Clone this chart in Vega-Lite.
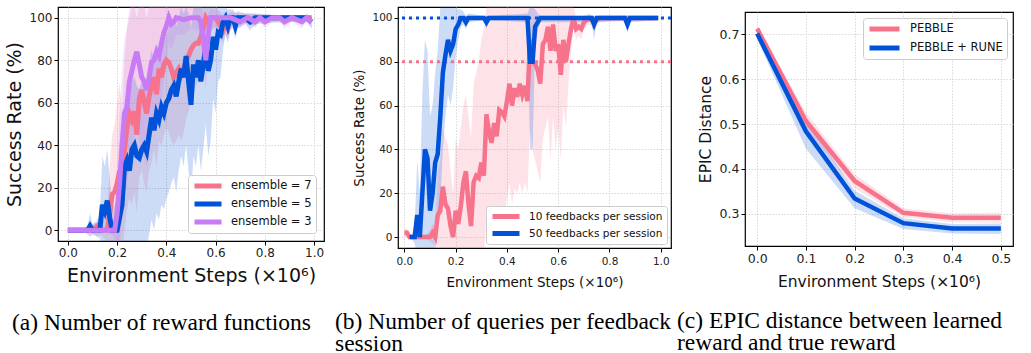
{
  "$schema": "https://vega.github.io/schema/vega-lite/v6.json",
  "padding": {"left": 4, "top": 6, "right": 0, "bottom": 0},
  "bounds": "flush",
  "spacing": 74,
  "config": {
    "font": "DejaVu Sans",
    "view": {"stroke": "#000", "strokeWidth": 1.2},
    "axis": {"domain": false, "grid": true, "gridColor": "#cfcfcf", "gridDash": [1.5, 1.5], "gridWidth": 0.8, "tickColor": "#000", "tickSize": 4, "labelColor": "#222", "titleColor": "#111", "titleFontWeight": "normal", "labelPadding": 2},
    "title": {"font": "Liberation Serif", "fontWeight": "normal", "color": "#000", "fontSize": 23.5}
  },
  "datasets": {
    "a": [
      {"s":"ensemble = 7","x":0,"v":0,"lo":0,"hi":0},
      {"s":"ensemble = 7","x":0.06,"v":0,"lo":0,"hi":0},
      {"s":"ensemble = 7","x":0.09,"v":0,"lo":-1,"hi":1},
      {"s":"ensemble = 7","x":0.1,"v":0,"lo":-2,"hi":2},
      {"s":"ensemble = 7","x":0.11,"v":1,"lo":-2,"hi":4},
      {"s":"ensemble = 7","x":0.12,"v":2,"lo":-3,"hi":6},
      {"s":"ensemble = 7","x":0.13,"v":0,"lo":-2,"hi":3},
      {"s":"ensemble = 7","x":0.15,"v":0,"lo":-4,"hi":6},
      {"s":"ensemble = 7","x":0.16,"v":0,"lo":-6,"hi":10},
      {"s":"ensemble = 7","x":0.17,"v":8,"lo":-15,"hi":30},
      {"s":"ensemble = 7","x":0.18,"v":17,"lo":-10,"hi":45},
      {"s":"ensemble = 7","x":0.19,"v":18,"lo":-12,"hi":50},
      {"s":"ensemble = 7","x":0.2,"v":22,"lo":-10,"hi":60},
      {"s":"ensemble = 7","x":0.21,"v":28,"lo":-8,"hi":70},
      {"s":"ensemble = 7","x":0.22,"v":15,"lo":-15,"hi":55},
      {"s":"ensemble = 7","x":0.23,"v":38,"lo":0,"hi":80},
      {"s":"ensemble = 7","x":0.24,"v":48,"lo":10,"hi":95},
      {"s":"ensemble = 7","x":0.25,"v":55,"lo":15,"hi":100},
      {"s":"ensemble = 7","x":0.26,"v":52,"lo":12,"hi":105},
      {"s":"ensemble = 7","x":0.27,"v":56,"lo":18,"hi":105},
      {"s":"ensemble = 7","x":0.28,"v":45,"lo":8,"hi":100},
      {"s":"ensemble = 7","x":0.29,"v":62,"lo":25,"hi":105},
      {"s":"ensemble = 7","x":0.3,"v":66,"lo":28,"hi":105},
      {"s":"ensemble = 7","x":0.31,"v":60,"lo":22,"hi":105},
      {"s":"ensemble = 7","x":0.32,"v":55,"lo":18,"hi":100},
      {"s":"ensemble = 7","x":0.33,"v":63,"lo":28,"hi":105},
      {"s":"ensemble = 7","x":0.34,"v":68,"lo":32,"hi":105},
      {"s":"ensemble = 7","x":0.35,"v":72,"lo":38,"hi":105},
      {"s":"ensemble = 7","x":0.36,"v":64,"lo":30,"hi":105},
      {"s":"ensemble = 7","x":0.37,"v":76,"lo":42,"hi":105},
      {"s":"ensemble = 7","x":0.38,"v":72,"lo":40,"hi":105},
      {"s":"ensemble = 7","x":0.39,"v":78,"lo":45,"hi":105},
      {"s":"ensemble = 7","x":0.4,"v":80,"lo":48,"hi":105},
      {"s":"ensemble = 7","x":0.41,"v":79,"lo":46,"hi":105},
      {"s":"ensemble = 7","x":0.42,"v":76,"lo":42,"hi":105},
      {"s":"ensemble = 7","x":0.43,"v":72,"lo":40,"hi":105},
      {"s":"ensemble = 7","x":0.44,"v":74,"lo":42,"hi":105},
      {"s":"ensemble = 7","x":0.45,"v":76,"lo":45,"hi":105},
      {"s":"ensemble = 7","x":0.46,"v":73,"lo":42,"hi":105},
      {"s":"ensemble = 7","x":0.47,"v":76,"lo":46,"hi":105},
      {"s":"ensemble = 7","x":0.48,"v":80,"lo":52,"hi":105},
      {"s":"ensemble = 7","x":0.49,"v":82,"lo":56,"hi":105},
      {"s":"ensemble = 7","x":0.5,"v":85,"lo":60,"hi":105},
      {"s":"ensemble = 7","x":0.51,"v":87,"lo":64,"hi":105},
      {"s":"ensemble = 7","x":0.52,"v":88,"lo":68,"hi":105},
      {"s":"ensemble = 7","x":0.53,"v":88,"lo":70,"hi":105},
      {"s":"ensemble = 7","x":0.54,"v":91,"lo":75,"hi":105},
      {"s":"ensemble = 7","x":0.55,"v":95,"lo":82,"hi":105},
      {"s":"ensemble = 7","x":0.56,"v":100,"lo":92,"hi":105},
      {"s":"ensemble = 7","x":0.57,"v":98,"lo":90,"hi":105},
      {"s":"ensemble = 7","x":0.58,"v":100,"lo":94,"hi":105},
      {"s":"ensemble = 7","x":0.6,"v":100,"lo":95,"hi":105},
      {"s":"ensemble = 7","x":0.61,"v":98,"lo":92,"hi":104},
      {"s":"ensemble = 7","x":0.62,"v":96,"lo":90,"hi":102},
      {"s":"ensemble = 7","x":0.63,"v":94,"lo":88,"hi":100},
      {"s":"ensemble = 7","x":0.64,"v":97,"lo":92,"hi":102},
      {"s":"ensemble = 7","x":0.65,"v":95,"lo":90,"hi":100},
      {"s":"ensemble = 7","x":0.66,"v":99,"lo":95,"hi":103},
      {"s":"ensemble = 7","x":0.67,"v":100,"lo":97,"hi":103},
      {"s":"ensemble = 7","x":0.7,"v":100,"lo":98,"hi":102},
      {"s":"ensemble = 7","x":0.76,"v":99,"lo":96,"hi":102},
      {"s":"ensemble = 7","x":0.79,"v":100,"lo":99,"hi":101},
      {"s":"ensemble = 7","x":0.9,"v":100,"lo":99,"hi":101},
      {"s":"ensemble = 7","x":0.99,"v":100,"lo":99,"hi":101},

      {"s":"ensemble = 5","x":0,"v":0,"lo":0,"hi":0},
      {"s":"ensemble = 5","x":0.06,"v":0,"lo":0,"hi":0},
      {"s":"ensemble = 5","x":0.08,"v":0,"lo":-2,"hi":2},
      {"s":"ensemble = 5","x":0.09,"v":2,"lo":-3,"hi":8},
      {"s":"ensemble = 5","x":0.1,"v":0,"lo":-2,"hi":3},
      {"s":"ensemble = 5","x":0.12,"v":0,"lo":-3,"hi":4},
      {"s":"ensemble = 5","x":0.13,"v":0,"lo":-4,"hi":8},
      {"s":"ensemble = 5","x":0.14,"v":12,"lo":-10,"hi":35},
      {"s":"ensemble = 5","x":0.15,"v":9,"lo":-12,"hi":30},
      {"s":"ensemble = 5","x":0.16,"v":14,"lo":-10,"hi":38},
      {"s":"ensemble = 5","x":0.17,"v":6,"lo":-12,"hi":25},
      {"s":"ensemble = 5","x":0.18,"v":0,"lo":-5,"hi":10},
      {"s":"ensemble = 5","x":0.19,"v":0,"lo":-6,"hi":12},
      {"s":"ensemble = 5","x":0.2,"v":0,"lo":-8,"hi":15},
      {"s":"ensemble = 5","x":0.21,"v":6,"lo":-10,"hi":25},
      {"s":"ensemble = 5","x":0.22,"v":12,"lo":-15,"hi":40},
      {"s":"ensemble = 5","x":0.23,"v":30,"lo":-10,"hi":60},
      {"s":"ensemble = 5","x":0.24,"v":33,"lo":-8,"hi":65},
      {"s":"ensemble = 5","x":0.25,"v":28,"lo":-12,"hi":60},
      {"s":"ensemble = 5","x":0.26,"v":38,"lo":-5,"hi":70},
      {"s":"ensemble = 5","x":0.27,"v":40,"lo":-5,"hi":72},
      {"s":"ensemble = 5","x":0.28,"v":35,"lo":-10,"hi":68},
      {"s":"ensemble = 5","x":0.29,"v":34,"lo":-10,"hi":66},
      {"s":"ensemble = 5","x":0.3,"v":38,"lo":-8,"hi":70},
      {"s":"ensemble = 5","x":0.31,"v":40,"lo":-5,"hi":72},
      {"s":"ensemble = 5","x":0.32,"v":37,"lo":-8,"hi":70},
      {"s":"ensemble = 5","x":0.33,"v":45,"lo":-2,"hi":78},
      {"s":"ensemble = 5","x":0.34,"v":53,"lo":5,"hi":85},
      {"s":"ensemble = 5","x":0.35,"v":47,"lo":0,"hi":80},
      {"s":"ensemble = 5","x":0.36,"v":55,"lo":8,"hi":88},
      {"s":"ensemble = 5","x":0.37,"v":52,"lo":5,"hi":85},
      {"s":"ensemble = 5","x":0.38,"v":58,"lo":12,"hi":90},
      {"s":"ensemble = 5","x":0.39,"v":55,"lo":10,"hi":88},
      {"s":"ensemble = 5","x":0.4,"v":60,"lo":15,"hi":92},
      {"s":"ensemble = 5","x":0.41,"v":62,"lo":18,"hi":95},
      {"s":"ensemble = 5","x":0.42,"v":66,"lo":22,"hi":98},
      {"s":"ensemble = 5","x":0.43,"v":68,"lo":25,"hi":100},
      {"s":"ensemble = 5","x":0.44,"v":63,"lo":18,"hi":96},
      {"s":"ensemble = 5","x":0.45,"v":70,"lo":28,"hi":100},
      {"s":"ensemble = 5","x":0.46,"v":76,"lo":35,"hi":105},
      {"s":"ensemble = 5","x":0.47,"v":72,"lo":30,"hi":102},
      {"s":"ensemble = 5","x":0.48,"v":82,"lo":40,"hi":105},
      {"s":"ensemble = 5","x":0.49,"v":70,"lo":28,"hi":102},
      {"s":"ensemble = 5","x":0.5,"v":59,"lo":15,"hi":95},
      {"s":"ensemble = 5","x":0.51,"v":78,"lo":35,"hi":105},
      {"s":"ensemble = 5","x":0.52,"v":72,"lo":30,"hi":105},
      {"s":"ensemble = 5","x":0.53,"v":80,"lo":40,"hi":105},
      {"s":"ensemble = 5","x":0.54,"v":70,"lo":28,"hi":105},
      {"s":"ensemble = 5","x":0.55,"v":78,"lo":38,"hi":105},
      {"s":"ensemble = 5","x":0.56,"v":87,"lo":50,"hi":105},
      {"s":"ensemble = 5","x":0.57,"v":75,"lo":35,"hi":105},
      {"s":"ensemble = 5","x":0.58,"v":80,"lo":42,"hi":105},
      {"s":"ensemble = 5","x":0.59,"v":91,"lo":62,"hi":105},
      {"s":"ensemble = 5","x":0.6,"v":85,"lo":55,"hi":105},
      {"s":"ensemble = 5","x":0.61,"v":93,"lo":70,"hi":105},
      {"s":"ensemble = 5","x":0.62,"v":92,"lo":72,"hi":105},
      {"s":"ensemble = 5","x":0.63,"v":98,"lo":85,"hi":105},
      {"s":"ensemble = 5","x":0.64,"v":100,"lo":92,"hi":105},
      {"s":"ensemble = 5","x":0.65,"v":96,"lo":88,"hi":104},
      {"s":"ensemble = 5","x":0.66,"v":100,"lo":94,"hi":104},
      {"s":"ensemble = 5","x":0.67,"v":100,"lo":95,"hi":104},
      {"s":"ensemble = 5","x":0.68,"v":96,"lo":90,"hi":102},
      {"s":"ensemble = 5","x":0.69,"v":100,"lo":95,"hi":103},
      {"s":"ensemble = 5","x":0.72,"v":100,"lo":97,"hi":102},
      {"s":"ensemble = 5","x":0.74,"v":98,"lo":94,"hi":102},
      {"s":"ensemble = 5","x":0.76,"v":100,"lo":97,"hi":102},
      {"s":"ensemble = 5","x":0.88,"v":100,"lo":98,"hi":101},
      {"s":"ensemble = 5","x":0.97,"v":100,"lo":98,"hi":101},
      {"s":"ensemble = 5","x":0.99,"v":98,"lo":95,"hi":101},

      {"s":"ensemble = 3","x":0,"v":0,"lo":0,"hi":0},
      {"s":"ensemble = 3","x":0.1,"v":0,"lo":0,"hi":0},
      {"s":"ensemble = 3","x":0.15,"v":0,"lo":-1,"hi":1},
      {"s":"ensemble = 3","x":0.18,"v":0,"lo":-2,"hi":2},
      {"s":"ensemble = 3","x":0.19,"v":0,"lo":-4,"hi":6},
      {"s":"ensemble = 3","x":0.2,"v":8,"lo":-10,"hi":30},
      {"s":"ensemble = 3","x":0.21,"v":22,"lo":-8,"hi":55},
      {"s":"ensemble = 3","x":0.22,"v":40,"lo":5,"hi":75},
      {"s":"ensemble = 3","x":0.23,"v":55,"lo":18,"hi":90},
      {"s":"ensemble = 3","x":0.24,"v":58,"lo":20,"hi":95},
      {"s":"ensemble = 3","x":0.25,"v":70,"lo":32,"hi":105},
      {"s":"ensemble = 3","x":0.26,"v":75,"lo":38,"hi":105},
      {"s":"ensemble = 3","x":0.27,"v":80,"lo":45,"hi":105},
      {"s":"ensemble = 3","x":0.28,"v":84,"lo":50,"hi":105},
      {"s":"ensemble = 3","x":0.29,"v":78,"lo":42,"hi":105},
      {"s":"ensemble = 3","x":0.3,"v":72,"lo":36,"hi":105},
      {"s":"ensemble = 3","x":0.31,"v":70,"lo":34,"hi":105},
      {"s":"ensemble = 3","x":0.32,"v":66,"lo":30,"hi":105},
      {"s":"ensemble = 3","x":0.33,"v":72,"lo":38,"hi":105},
      {"s":"ensemble = 3","x":0.34,"v":79,"lo":45,"hi":105},
      {"s":"ensemble = 3","x":0.35,"v":80,"lo":48,"hi":105},
      {"s":"ensemble = 3","x":0.36,"v":84,"lo":52,"hi":105},
      {"s":"ensemble = 3","x":0.37,"v":82,"lo":50,"hi":105},
      {"s":"ensemble = 3","x":0.38,"v":88,"lo":60,"hi":105},
      {"s":"ensemble = 3","x":0.39,"v":93,"lo":70,"hi":105},
      {"s":"ensemble = 3","x":0.4,"v":96,"lo":78,"hi":105},
      {"s":"ensemble = 3","x":0.41,"v":100,"lo":88,"hi":105},
      {"s":"ensemble = 3","x":0.42,"v":97,"lo":85,"hi":105},
      {"s":"ensemble = 3","x":0.43,"v":98,"lo":88,"hi":105},
      {"s":"ensemble = 3","x":0.44,"v":100,"lo":92,"hi":105},
      {"s":"ensemble = 3","x":0.47,"v":99,"lo":92,"hi":105},
      {"s":"ensemble = 3","x":0.5,"v":100,"lo":95,"hi":105},
      {"s":"ensemble = 3","x":0.53,"v":100,"lo":94,"hi":105},
      {"s":"ensemble = 3","x":0.54,"v":98,"lo":90,"hi":105},
      {"s":"ensemble = 3","x":0.55,"v":90,"lo":78,"hi":102},
      {"s":"ensemble = 3","x":0.56,"v":80,"lo":65,"hi":98},
      {"s":"ensemble = 3","x":0.57,"v":92,"lo":82,"hi":102},
      {"s":"ensemble = 3","x":0.58,"v":100,"lo":95,"hi":104},
      {"s":"ensemble = 3","x":0.66,"v":100,"lo":98,"hi":102},
      {"s":"ensemble = 3","x":0.7,"v":98,"lo":95,"hi":101},
      {"s":"ensemble = 3","x":0.73,"v":100,"lo":98,"hi":102},
      {"s":"ensemble = 3","x":0.76,"v":98,"lo":95,"hi":101},
      {"s":"ensemble = 3","x":0.78,"v":100,"lo":98,"hi":101},
      {"s":"ensemble = 3","x":0.8,"v":98,"lo":95,"hi":101},
      {"s":"ensemble = 3","x":0.83,"v":100,"lo":98,"hi":101},
      {"s":"ensemble = 3","x":0.86,"v":100,"lo":98,"hi":101},
      {"s":"ensemble = 3","x":0.88,"v":98,"lo":95,"hi":101},
      {"s":"ensemble = 3","x":0.91,"v":100,"lo":98,"hi":101},
      {"s":"ensemble = 3","x":0.95,"v":98,"lo":95,"hi":101},
      {"s":"ensemble = 3","x":0.97,"v":100,"lo":98,"hi":101},
      {"s":"ensemble = 3","x":0.99,"v":98,"lo":95,"hi":101}
    ],
    "b": [
      {"s":"10 feedbacks per session","x":0,"v":2,"lo":0,"hi":4},
      {"s":"10 feedbacks per session","x":0.01,"v":2,"lo":0,"hi":4},
      {"s":"10 feedbacks per session","x":0.02,"v":0,"lo":-1,"hi":1},
      {"s":"10 feedbacks per session","x":0.08,"v":0,"lo":-1,"hi":1},
      {"s":"10 feedbacks per session","x":0.1,"v":0,"lo":-2,"hi":3},
      {"s":"10 feedbacks per session","x":0.11,"v":2,"lo":-3,"hi":6},
      {"s":"10 feedbacks per session","x":0.12,"v":0,"lo":-4,"hi":5},
      {"s":"10 feedbacks per session","x":0.13,"v":10,"lo":-10,"hi":30},
      {"s":"10 feedbacks per session","x":0.14,"v":12,"lo":-12,"hi":35},
      {"s":"10 feedbacks per session","x":0.15,"v":23,"lo":-8,"hi":50},
      {"s":"10 feedbacks per session","x":0.16,"v":15,"lo":-15,"hi":45},
      {"s":"10 feedbacks per session","x":0.17,"v":13,"lo":-15,"hi":42},
      {"s":"10 feedbacks per session","x":0.18,"v":5,"lo":-20,"hi":30},
      {"s":"10 feedbacks per session","x":0.19,"v":0,"lo":-15,"hi":20},
      {"s":"10 feedbacks per session","x":0.2,"v":12,"lo":-15,"hi":45},
      {"s":"10 feedbacks per session","x":0.21,"v":6,"lo":-20,"hi":40},
      {"s":"10 feedbacks per session","x":0.22,"v":14,"lo":-15,"hi":50},
      {"s":"10 feedbacks per session","x":0.23,"v":25,"lo":-10,"hi":60},
      {"s":"10 feedbacks per session","x":0.24,"v":30,"lo":-8,"hi":65},
      {"s":"10 feedbacks per session","x":0.25,"v":15,"lo":-20,"hi":55},
      {"s":"10 feedbacks per session","x":0.26,"v":5,"lo":-25,"hi":45},
      {"s":"10 feedbacks per session","x":0.27,"v":25,"lo":-12,"hi":70},
      {"s":"10 feedbacks per session","x":0.28,"v":28,"lo":-10,"hi":75},
      {"s":"10 feedbacks per session","x":0.29,"v":27,"lo":-12,"hi":80},
      {"s":"10 feedbacks per session","x":0.3,"v":34,"lo":-5,"hi":90},
      {"s":"10 feedbacks per session","x":0.31,"v":28,"lo":-10,"hi":95},
      {"s":"10 feedbacks per session","x":0.32,"v":56,"lo":10,"hi":105},
      {"s":"10 feedbacks per session","x":0.33,"v":48,"lo":5,"hi":105},
      {"s":"10 feedbacks per session","x":0.34,"v":43,"lo":0,"hi":105},
      {"s":"10 feedbacks per session","x":0.35,"v":52,"lo":8,"hi":105},
      {"s":"10 feedbacks per session","x":0.36,"v":46,"lo":2,"hi":105},
      {"s":"10 feedbacks per session","x":0.37,"v":58,"lo":12,"hi":105},
      {"s":"10 feedbacks per session","x":0.38,"v":57,"lo":12,"hi":105},
      {"s":"10 feedbacks per session","x":0.39,"v":55,"lo":10,"hi":105},
      {"s":"10 feedbacks per session","x":0.4,"v":62,"lo":18,"hi":105},
      {"s":"10 feedbacks per session","x":0.41,"v":70,"lo":25,"hi":105},
      {"s":"10 feedbacks per session","x":0.42,"v":60,"lo":15,"hi":105},
      {"s":"10 feedbacks per session","x":0.43,"v":68,"lo":22,"hi":105},
      {"s":"10 feedbacks per session","x":0.44,"v":64,"lo":20,"hi":105},
      {"s":"10 feedbacks per session","x":0.45,"v":70,"lo":25,"hi":105},
      {"s":"10 feedbacks per session","x":0.46,"v":65,"lo":20,"hi":105},
      {"s":"10 feedbacks per session","x":0.47,"v":69,"lo":25,"hi":105},
      {"s":"10 feedbacks per session","x":0.48,"v":62,"lo":20,"hi":105},
      {"s":"10 feedbacks per session","x":0.49,"v":90,"lo":50,"hi":105},
      {"s":"10 feedbacks per session","x":0.5,"v":80,"lo":40,"hi":105},
      {"s":"10 feedbacks per session","x":0.51,"v":79,"lo":35,"hi":105},
      {"s":"10 feedbacks per session","x":0.52,"v":76,"lo":30,"hi":105},
      {"s":"10 feedbacks per session","x":0.53,"v":70,"lo":25,"hi":105},
      {"s":"10 feedbacks per session","x":0.54,"v":88,"lo":45,"hi":105},
      {"s":"10 feedbacks per session","x":0.55,"v":90,"lo":50,"hi":105},
      {"s":"10 feedbacks per session","x":0.56,"v":96,"lo":55,"hi":105},
      {"s":"10 feedbacks per session","x":0.57,"v":85,"lo":35,"hi":105},
      {"s":"10 feedbacks per session","x":0.58,"v":97,"lo":55,"hi":105},
      {"s":"10 feedbacks per session","x":0.59,"v":85,"lo":40,"hi":105},
      {"s":"10 feedbacks per session","x":0.6,"v":88,"lo":50,"hi":105},
      {"s":"10 feedbacks per session","x":0.61,"v":74,"lo":35,"hi":105},
      {"s":"10 feedbacks per session","x":0.62,"v":90,"lo":60,"hi":105},
      {"s":"10 feedbacks per session","x":0.63,"v":80,"lo":50,"hi":105},
      {"s":"10 feedbacks per session","x":0.64,"v":88,"lo":70,"hi":105},
      {"s":"10 feedbacks per session","x":0.65,"v":95,"lo":85,"hi":105},
      {"s":"10 feedbacks per session","x":0.66,"v":100,"lo":95,"hi":105},
      {"s":"10 feedbacks per session","x":0.67,"v":95,"lo":90,"hi":100},
      {"s":"10 feedbacks per session","x":0.68,"v":96,"lo":92,"hi":100},
      {"s":"10 feedbacks per session","x":0.69,"v":95,"lo":90,"hi":100},
      {"s":"10 feedbacks per session","x":0.7,"v":98,"lo":95,"hi":101},
      {"s":"10 feedbacks per session","x":0.72,"v":100,"lo":97,"hi":102},
      {"s":"10 feedbacks per session","x":0.74,"v":98,"lo":95,"hi":101},
      {"s":"10 feedbacks per session","x":0.76,"v":100,"lo":98,"hi":101},
      {"s":"10 feedbacks per session","x":0.99,"v":100,"lo":99,"hi":101},

      {"s":"50 feedbacks per session","x":0.02,"v":0,"lo":0,"hi":0},
      {"s":"50 feedbacks per session","x":0.03,"v":0,"lo":-1,"hi":1},
      {"s":"50 feedbacks per session","x":0.04,"v":0,"lo":-3,"hi":5},
      {"s":"50 feedbacks per session","x":0.05,"v":10,"lo":-10,"hi":35},
      {"s":"50 feedbacks per session","x":0.06,"v":0,"lo":-10,"hi":20},
      {"s":"50 feedbacks per session","x":0.07,"v":20,"lo":-10,"hi":65},
      {"s":"50 feedbacks per session","x":0.08,"v":40,"lo":-5,"hi":90},
      {"s":"50 feedbacks per session","x":0.09,"v":36,"lo":-10,"hi":85},
      {"s":"50 feedbacks per session","x":0.1,"v":12,"lo":-15,"hi":55},
      {"s":"50 feedbacks per session","x":0.11,"v":20,"lo":-10,"hi":60},
      {"s":"50 feedbacks per session","x":0.12,"v":34,"lo":-5,"hi":75},
      {"s":"50 feedbacks per session","x":0.13,"v":38,"lo":0,"hi":85},
      {"s":"50 feedbacks per session","x":0.14,"v":55,"lo":15,"hi":105},
      {"s":"50 feedbacks per session","x":0.15,"v":75,"lo":40,"hi":105},
      {"s":"50 feedbacks per session","x":0.16,"v":83,"lo":55,"hi":105},
      {"s":"50 feedbacks per session","x":0.17,"v":90,"lo":65,"hi":105},
      {"s":"50 feedbacks per session","x":0.18,"v":85,"lo":60,"hi":105},
      {"s":"50 feedbacks per session","x":0.19,"v":88,"lo":68,"hi":105},
      {"s":"50 feedbacks per session","x":0.2,"v":95,"lo":82,"hi":105},
      {"s":"50 feedbacks per session","x":0.21,"v":97,"lo":90,"hi":104},
      {"s":"50 feedbacks per session","x":0.22,"v":100,"lo":96,"hi":104},
      {"s":"50 feedbacks per session","x":0.23,"v":100,"lo":97,"hi":103},
      {"s":"50 feedbacks per session","x":0.24,"v":98,"lo":95,"hi":101},
      {"s":"50 feedbacks per session","x":0.25,"v":100,"lo":98,"hi":102},
      {"s":"50 feedbacks per session","x":0.31,"v":100,"lo":99,"hi":101},
      {"s":"50 feedbacks per session","x":0.32,"v":98,"lo":95,"hi":101},
      {"s":"50 feedbacks per session","x":0.33,"v":100,"lo":99,"hi":101},
      {"s":"50 feedbacks per session","x":0.48,"v":100,"lo":98,"hi":102},
      {"s":"50 feedbacks per session","x":0.49,"v":80,"lo":40,"hi":105},
      {"s":"50 feedbacks per session","x":0.5,"v":80,"lo":40,"hi":105},
      {"s":"50 feedbacks per session","x":0.51,"v":96,"lo":88,"hi":104},
      {"s":"50 feedbacks per session","x":0.52,"v":98,"lo":94,"hi":102},
      {"s":"50 feedbacks per session","x":0.53,"v":100,"lo":98,"hi":101},
      {"s":"50 feedbacks per session","x":0.73,"v":100,"lo":98,"hi":101},
      {"s":"50 feedbacks per session","x":0.74,"v":97,"lo":90,"hi":101},
      {"s":"50 feedbacks per session","x":0.75,"v":100,"lo":98,"hi":101},
      {"s":"50 feedbacks per session","x":0.86,"v":100,"lo":99,"hi":101},
      {"s":"50 feedbacks per session","x":0.87,"v":97,"lo":93,"hi":101},
      {"s":"50 feedbacks per session","x":0.88,"v":100,"lo":98,"hi":101},
      {"s":"50 feedbacks per session","x":0.99,"v":100,"lo":99,"hi":101}
    ],
    "bref": [
      {"s":"10 feedbacks per session","y":80},
      {"s":"50 feedbacks per session","y":100}
    ],
    "c": [
      {"s":"PEBBLE","x":0,"v":0.713,"lo":0.705,"hi":0.72},
      {"s":"PEBBLE","x":0.1,"v":0.507,"lo":0.49,"hi":0.525},
      {"s":"PEBBLE","x":0.2,"v":0.373,"lo":0.356,"hi":0.388},
      {"s":"PEBBLE","x":0.3,"v":0.302,"lo":0.292,"hi":0.312},
      {"s":"PEBBLE","x":0.4,"v":0.291,"lo":0.281,"hi":0.301},
      {"s":"PEBBLE","x":0.5,"v":0.291,"lo":0.28,"hi":0.302},
      {"s":"PEBBLE + RUNE","x":0,"v":0.702,"lo":0.69,"hi":0.71},
      {"s":"PEBBLE + RUNE","x":0.1,"v":0.484,"lo":0.445,"hi":0.51},
      {"s":"PEBBLE + RUNE","x":0.2,"v":0.334,"lo":0.312,"hi":0.352},
      {"s":"PEBBLE + RUNE","x":0.3,"v":0.279,"lo":0.266,"hi":0.29},
      {"s":"PEBBLE + RUNE","x":0.4,"v":0.267,"lo":0.256,"hi":0.277},
      {"s":"PEBBLE + RUNE","x":0.5,"v":0.267,"lo":0.255,"hi":0.278}
    ]
  },
  "hconcat": [
    {
      "width": 266,
      "height": 234,
      "title": {"text": "(a) Number of reward functions", "orient": "bottom", "anchor": "start", "frame": "group", "dx": -46, "offset": 26},
      "data": {"name": "a"},
      "encoding": {
        "x": {"field": "x", "type": "quantitative", "scale": {"domain": [-0.04, 1.04], "nice": false, "zero": false}, "axis": {"values": [0, 0.2, 0.4, 0.6, 0.8, 1], "format": ".1f", "title": "Environment Steps (×10⁶)", "titleFontSize": 19, "labelFontSize": 12, "titlePadding": 8}}
      },
      "layer": [
        {
          "mark": {"type": "area", "opacity": 0.2, "clip": true},
          "encoding": {
            "y": {"field": "lo", "type": "quantitative", "scale": {"domain": [-5, 105], "nice": false}, "axis": {"values": [0, 20, 40, 60, 80, 100], "title": "Success Rate (%)", "titleFontSize": 19, "labelFontSize": 12, "titlePadding": 5}},
            "y2": {"field": "hi"},
            "fill": {"field": "s", "type": "nominal", "scale": {"range": ["#c77cf6", "#0052d9", "#f7728b"]}, "legend": null}
          }
        },
        {
          "mark": {"type": "line", "strokeWidth": 5, "clip": true},
          "encoding": {
            "y": {"field": "v", "type": "quantitative"},
            "color": {"field": "s", "type": "nominal", "scale": {"domain": ["ensemble = 7", "ensemble = 5", "ensemble = 3"], "range": ["#f7728b", "#0052d9", "#c77cf6"]}, "legend": {"orient": "bottom-right", "offset": 8, "title": null, "symbolType": "stroke", "symbolSize": 729, "symbolStrokeWidth": 5, "symbolOpacity": 1, "labelFontSize": 11.5, "labelColor": "#111", "labelOffset": 7, "strokeColor": "#cccccc", "fillColor": "#ffffff", "cornerRadius": 3, "padding": 4, "rowPadding": 4, "clipHeight": 14}}
          }
        }
      ]
    },
    {
      "width": 273,
      "height": 241,
      "title": {"text": ["(b) Number of queries per feedback", "session"], "orient": "bottom", "anchor": "start", "frame": "group", "dx": -63, "offset": 21, "lineHeight": 22},
      "layer": [
        {
          "data": {"name": "b"},
          "mark": {"type": "area", "opacity": 0.2, "clip": true},
          "encoding": {
            "x": {"field": "x", "type": "quantitative", "scale": {"domain": [-0.025, 1.04], "nice": false, "zero": false}, "axis": {"values": [0, 0.2, 0.4, 0.6, 0.8, 1], "format": ".1f", "title": "Environment Steps (×10⁶)", "titleFontSize": 13.5, "labelFontSize": 10.5, "titlePadding": 9, "labelPadding": 4}},
            "y": {"field": "lo", "type": "quantitative", "scale": {"domain": [-5, 105], "nice": false}, "axis": {"values": [0, 20, 40, 60, 80, 100], "title": "Success Rate (%)", "titleFontSize": 13.5, "labelFontSize": 10.5, "titlePadding": 5}},
            "y2": {"field": "hi"},
            "fill": {"field": "s", "type": "nominal", "scale": {"range": ["#f7728b", "#0052d9"]}, "legend": null}
          }
        },
        {
          "data": {"name": "bref"},
          "mark": {"type": "rule", "strokeDash": [3, 4], "strokeWidth": 3},
          "encoding": {
            "y": {"field": "y", "type": "quantitative"},
            "stroke": {"field": "s", "type": "nominal", "scale": {"range": ["#f7728b", "#0052d9"]}, "legend": null}
          }
        },
        {
          "data": {"name": "b"},
          "mark": {"type": "line", "strokeWidth": 4.5, "clip": true},
          "encoding": {
            "x": {"field": "x", "type": "quantitative"},
            "y": {"field": "v", "type": "quantitative"},
            "color": {"field": "s", "type": "nominal", "scale": {"domain": ["10 feedbacks per session", "50 feedbacks per session"], "range": ["#f7728b", "#0052d9"]}, "legend": {"orient": "bottom-right", "offset": 4, "title": null, "symbolType": "stroke", "symbolSize": 729, "symbolStrokeWidth": 5, "symbolOpacity": 1, "labelFontSize": 10.5, "labelColor": "#111", "labelOffset": 7, "strokeColor": "#cccccc", "fillColor": "#ffffff", "cornerRadius": 3, "padding": 4, "rowPadding": 4, "clipHeight": 13}}
          }
        }
      ]
    },
    {
      "bounds": "flush",
      "spacing": 4,
      "resolve": {"scale": {"color": "independent", "fill": "independent", "x": "independent", "y": "independent"}, "legend": {"color": "independent", "fill": "independent"}},
      "vconcat": [
        {
          "width": 268,
          "height": 1,
          "view": {"stroke": null},
          "data": {"values": []},
          "mark": {"type": "point"}
        },
        {
          "width": 268,
          "height": 234,
          "title": {"text": ["(c) EPIC distance between learned", "reward and true reward"], "orient": "bottom", "anchor": "start", "frame": "group", "dx": -68, "offset": 19, "lineHeight": 22},
          "data": {"name": "c"},
          "encoding": {
            "x": {"field": "x", "type": "quantitative", "scale": {"domain": [-0.025, 0.525], "nice": false, "zero": false}, "axis": {"values": [0, 0.1, 0.2, 0.3, 0.4, 0.5], "format": ".1f", "title": "Environment Steps (×10⁶)", "titleFontSize": 15.5, "labelFontSize": 12.5, "titlePadding": 10}}
          },
          "layer": [
            {
              "mark": {"type": "area", "opacity": 0.2, "clip": true},
              "encoding": {
                "y": {"field": "lo", "type": "quantitative", "scale": {"domain": [0.228, 0.75], "nice": false, "zero": false}, "axis": {"values": [0.3, 0.4, 0.5, 0.6, 0.7], "format": ".1f", "title": "EPIC Distance", "titleFontSize": 15.5, "labelFontSize": 12.5, "titlePadding": 6}},
                "y2": {"field": "hi"},
                "fill": {"field": "s", "type": "nominal", "scale": {"range": ["#f7728b", "#0052d9"]}, "legend": null}
              }
            },
            {
              "mark": {"type": "line", "strokeWidth": 4.5, "clip": true},
              "encoding": {
                "y": {"field": "v", "type": "quantitative"},
                "color": {"field": "s", "type": "nominal", "scale": {"domain": ["PEBBLE", "PEBBLE + RUNE"], "range": ["#f7728b", "#0052d9"]}, "legend": {"orient": "top-right", "offset": 6, "title": null, "symbolType": "stroke", "symbolSize": 900, "symbolStrokeWidth": 5, "symbolOpacity": 1, "labelFontSize": 11.5, "labelColor": "#111", "labelOffset": 8, "strokeColor": "#cccccc", "fillColor": "#ffffff", "cornerRadius": 3, "padding": 4, "rowPadding": 5, "clipHeight": 14}}
              }
            }
          ]
        }
      ]
    }
  ],
  "resolve": {"scale": {"color": "independent", "fill": "independent", "stroke": "independent", "x": "independent", "y": "independent"}}
}
